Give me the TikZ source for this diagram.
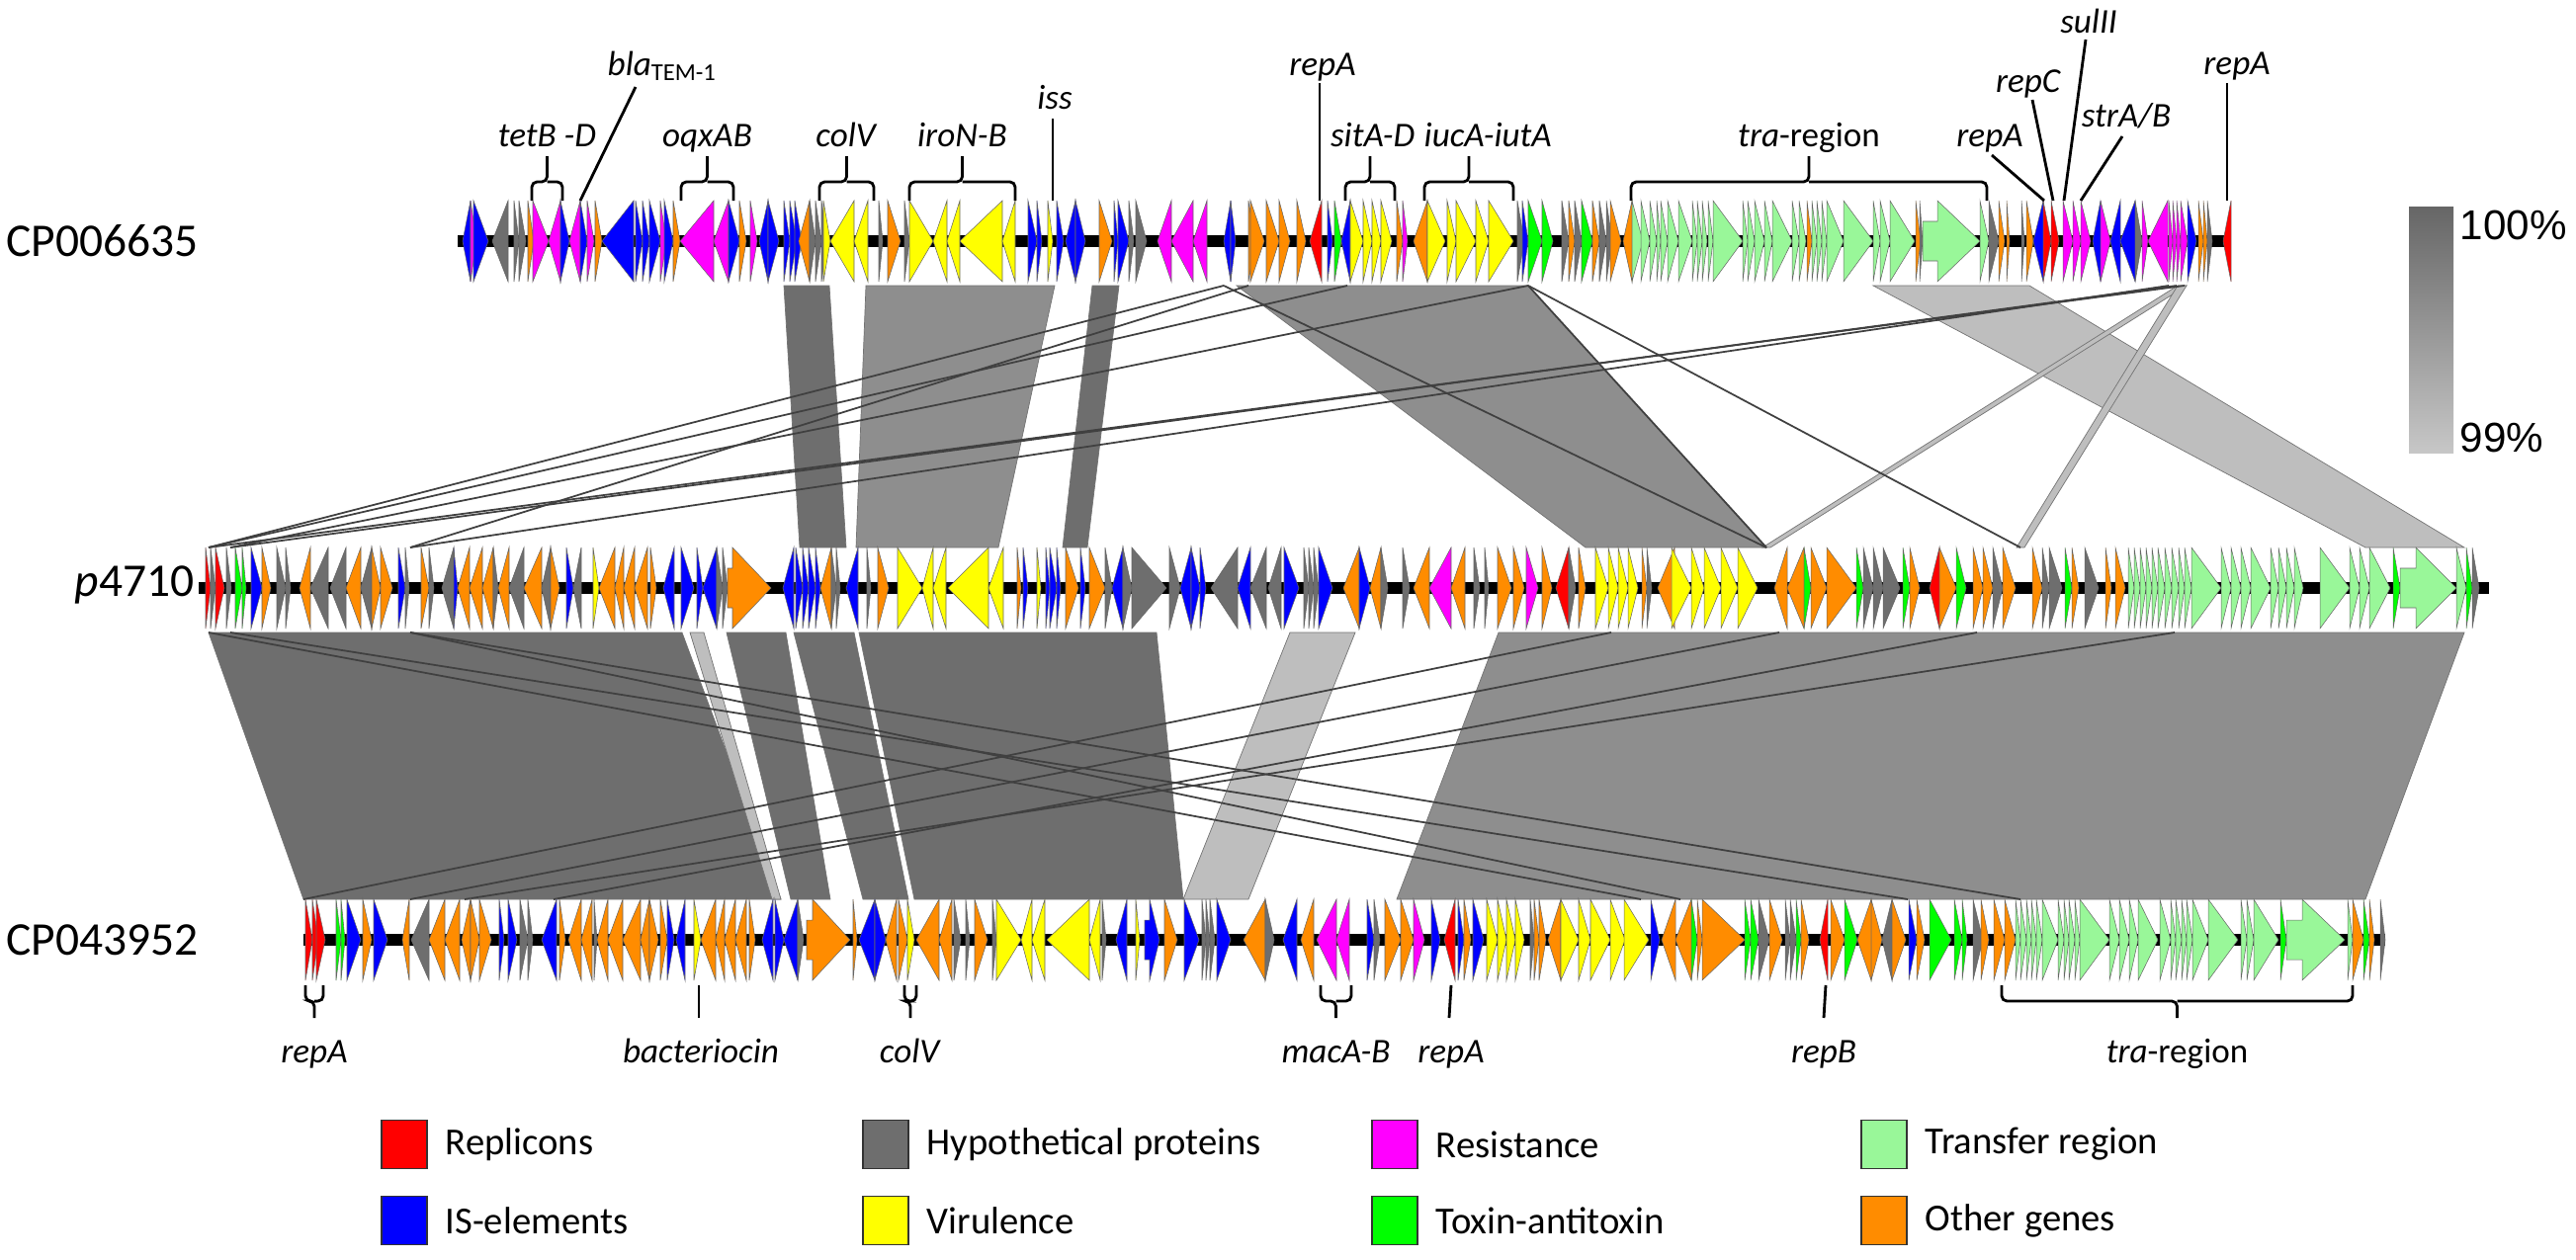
\documentclass[tikz,border=0pt]{standalone}
\usepackage{fontspec}
\setmainfont{Carlito}
\newfontfamily\pctfont{Liberation Sans}
\usetikzlibrary{positioning,calc}

\definecolor{repcol}{HTML}{FF0000}
\definecolor{iscol}{HTML}{0000FF}
\definecolor{hypcol}{HTML}{6E6E6E}
\definecolor{vircol}{HTML}{FFFF00}
\definecolor{rescol}{HTML}{FF00FF}
\definecolor{tacol}{HTML}{00FF00}
\definecolor{tracol}{HTML}{99F799}
\definecolor{othcol}{HTML}{FF8C00}
\definecolor{banddark}{HTML}{6E6E6E}
\definecolor{bandmid}{HTML}{8E8E8E}
\definecolor{bandlight}{HTML}{BEBEBE}

\tikzset{gene/.style={draw=black!60, line width=0.15pt}}
\tikzset{backbone/.style={draw=black, line width=3.6pt}}
\tikzset{band/.style={draw=black!55, line width=0.2pt}}
\tikzset{link/.style={draw=black!75, line width=0.5pt}}
\tikzset{lead/.style={draw=black, line width=0.8pt}}
\tikzset{brace/.style={draw=black, line width=0.8pt, rounded corners=1.5pt}}
\tikzset{glabel/.style={font=\fontsize{10}{12}\selectfont, inner sep=0pt}}
\tikzset{trklabel/.style={font=\fontsize{13.5}{15}\selectfont, anchor=west, inner sep=0pt}}
\tikzset{swatch/.style={draw=black!80, line width=0.4pt, minimum width=13pt, minimum height=14pt, inner sep=0pt}}
\tikzset{legtext/.style={font=\fontsize{11}{13}\selectfont, anchor=west, inner sep=0pt}}

% genes of one track: tail x / head x / colour
\newcommand{\genes}[2]{%
  \foreach \ga/\gb/\gc in {#2}{
    \filldraw[gene, fill=\gc] (\ga,#1-41) -- (\gb,#1) -- (\ga,#1+41) -- cycle;}}
% block arrow: tail, shaft end, head, centre y, colour
\newcommand{\blockgene}[5]{%
  \filldraw[gene, fill=#5] (#1,#4-20) -- (#2,#4-20) -- (#2,#4-41) -- (#3,#4)
    -- (#2,#4+41) -- (#2,#4+20) -- (#1,#4+20) -- cycle;}
\newcommand{\topbrace}[3]{%
  \draw[brace] (#1,203) |- ({(#1+#2)/2},184) -- ({(#1+#2)/2},158);
  \draw[brace] (#2,203) |- ({(#1+#2)/2},184);
  \coordinate (#3) at ({(#1+#2)/2},158);}
\newcommand{\botbrace}[3]{%
  \draw[brace] (#1,997) |- ({(#1+#2)/2},1013) -- ({(#1+#2)/2},1030);
  \draw[brace] (#2,997) |- ({(#1+#2)/2},1013);
  \coordinate (#3) at ({(#1+#2)/2},1030);}

\begin{document}
\begin{tikzpicture}[x=0.1mm, y=-0.1mm]
\useasboundingbox (0,0) rectangle (2606,1274);

% similarity bands CP006635 - p4710
\filldraw[band, fill=banddark] (793,289) -- (839,289) -- (856,554) -- (809,554) -- cycle;
\filldraw[band, fill=bandmid] (876,289) -- (1067,289) -- (1010,554) -- (866,554) -- cycle;
\filldraw[band, fill=banddark] (1105,289) -- (1132,289) -- (1100,554) -- (1075,554) -- cycle;
\filldraw[band, fill=bandmid] (1251,289) -- (1546,289) -- (1787,554) -- (1604,554) -- cycle;
\filldraw[band, fill=bandlight] (1895,289) -- (2053,289) -- (2493,554) -- (2393,554) -- cycle;
\filldraw[band, fill=bandlight] (2203,289) -- (2212,289) -- (1791,554) -- (1783,554) -- cycle;
\filldraw[band, fill=bandlight] (2203,289) -- (2212,289) -- (2048,554) -- (2040,554) -- cycle;
\draw[link] (2210,289) -- (211,554);
\draw[link] (2202,289) -- (233,554);
\draw[link] (2194,289) -- (415,554);
\draw[link] (1238,289) -- (211,554);
\draw[link] (1263,289) -- (415,554);
\draw[link] (1363,289) -- (211,554);
\draw[link] (1546,289) -- (233,554);
\draw[link] (1546,289) -- (1787,554);
\draw[link] (1546,289) -- (2044,554);
\draw[link] (1238,289) -- (1787,554);

% similarity bands p4710 - CP043952
\filldraw[band, fill=banddark] (211,640) -- (690,640) -- (790,910) -- (307,910) -- cycle;
\filldraw[band, fill=bandlight] (698,640) -- (712,640) -- (790,910) -- (781,910) -- cycle;
\filldraw[band, fill=banddark] (735,640) -- (795,640) -- (840,910) -- (800,910) -- cycle;
\filldraw[band, fill=banddark] (803,640) -- (864,640) -- (919,910) -- (873,910) -- cycle;
\filldraw[band, fill=banddark] (869,640) -- (1170,640) -- (1197,910) -- (925,910) -- cycle;
\filldraw[band, fill=bandlight] (1305,640) -- (1371,640) -- (1263,910) -- (1197,910) -- cycle;
\filldraw[band, fill=bandmid] (1516,640) -- (2493,640) -- (2393,910) -- (1413,910) -- cycle;
\draw[link] (211,640) -- (1660,910);
\draw[link] (233,640) -- (1930,910);
\draw[link] (415,640) -- (1700,910);
\draw[link] (415,640) -- (2044,910);
\draw[link] (1630,640) -- (307,910);
\draw[link] (1800,640) -- (415,910);
\draw[link] (2000,640) -- (560,910);
\draw[link] (2200,640) -- (470,910);

% backbones
\coordinate (aL) at (463,244); \coordinate (aR) at (2257,244);
\coordinate (bL) at (201,595); \coordinate (bR) at (2518,595);
\coordinate (cL) at (307,951); \coordinate (cR) at (2413,951);
\draw[backbone] (aL) -- (aR);
\draw[backbone] (bL) -- (bR);
\draw[backbone] (cL) -- (cR);

% CP006635
\genes{244}{476/468/iscol, 476/482/rescol, 479/494/iscol, 514/498/hypcol, 520/525/hypcol,
  525/532/hypcol, 534/540/othcol, 539/555/rescol, 567/555/rescol, 567/576/iscol,
  587/576/rescol, 587/594/iscol, 594/601/rescol, 602/609/othcol, 641/609/iscol,
  643/650/iscol, 650/657/iscol, 657/668/iscol, 668/674/rescol, 672/681/iscol,
  681/688/othcol, 722/688/rescol, 737/722/rescol, 737/748/iscol, 748/755/othcol,
  759/766/rescol, 777/768/iscol, 777/788/iscol, 793/799/iscol, 799/806/iscol,
  804/811/iscol, 819/808/othcol, 819/825/hypcol, 825/831/hypcol, 831/837/hypcol,
  833/840/vircol, 864/840/vircol, 878/864/vircol, 889/893/hypcol, 898/911/othcol,
  915/920/hypcol, 920/944/vircol, 958/944/vircol, 971/958/vircol, 1014/971/vircol,
  1027/1014/vircol, 1040/1049/iscol, 1049/1054/iscol, 1060/1065/vircol, 1069/1076/iscol,
  1088/1078/iscol, 1088/1098/iscol, 1112/1125/othcol, 1127/1131/iscol, 1131/1142/iscol,
  1142/1147/hypcol, 1149/1160/hypcol, 1185/1171/rescol, 1207/1185/rescol, 1221/1207/rescol,
  1245/1238/iscol, 1245/1250/iscol, 1263/1270/othcol, 1265/1279/othcol, 1281/1294/othcol,
  1294/1305/othcol, 1312/1321/othcol, 1337/1325/repcol, 1343/1348/iscol, 1350/1357/tacol,
  1366/1357/iscol, 1366/1379/vircol, 1379/1388/vircol, 1388/1397/vircol, 1397/1408/vircol,
  1413/1419/othcol, 1419/1424/rescol, 1444/1430/othcol, 1444/1462/vircol, 1464/1473/vircol,
  1473/1493/vircol, 1493/1506/vircol, 1506/1531/vircol, 1535/1542/hypcol, 1540/1546/iscol,
  1546/1560/tacol, 1560/1571/tacol, 1580/1587/hypcol, 1587/1593/othcol, 1593/1600/hypcol,
  1600/1611/tacol, 1611/1618/othcol, 1618/1625/hypcol, 1625/1631/hypcol, 1629/1640/othcol,
  1651/1642/othcol, 1651/1662/tracol, 1660/1669/tracol, 1669/1676/tracol, 1676/1680/tracol,
  1680/1687/tracol, 1687/1698/tracol, 1698/1712/tracol, 1712/1717/tracol, 1717/1722/tracol,
  1722/1727/tracol, 1728/1733/tracol, 1733/1763/tracol, 1763/1768/tracol, 1768/1775/tracol,
  1775/1785/tracol, 1785/1793/tracol, 1793/1813/tracol, 1813/1820/tracol, 1820/1827/tracol,
  1828/1833/othcol, 1833/1838/tracol, 1838/1843/tracol, 1843/1848/tracol, 1848/1865/tracol,
  1865/1895/tracol, 1895/1902/tracol, 1902/1912/tracol, 1912/1937/tracol, 1938/1943/othcol,
  1942/1945/hypcol, 2003/2012/tracol, 2012/2022/hypcol, 2022/2028/othcol, 2030/2033/othcol,
  2045/2048/hypcol, 2050/2057/othcol, 2067/2057/iscol, 2067/2075/repcol, 2075/2083/repcol,
  2087/2097/rescol, 2097/2105/rescol, 2105/2115/rescol, 2125/2117/iscol, 2125/2135/rescol,
  2145/2135/iscol, 2160/2145/iscol, 2160/2167/hypcol, 2167/2173/rescol, 2193/2173/rescol,
  2194/2198/rescol, 2198/2202/rescol, 2202/2206/rescol, 2206/2213/rescol, 2213/2222/iscol,
  2224/2229/othcol, 2229/2233/othcol, 2233/2238/hypcol, 2257/2249/repcol}
\blockgene{1945}{1960}{2003}{244}{tracol}

% p4710
\genes{595}{208/213/repcol, 213/218/hypcol, 218/227/repcol, 229/234/hypcol, 238/245/tacol,
  245/249/tacol, 254/265/iscol, 265/274/othcol, 280/289/hypcol, 289/294/hypcol,
  314/303/othcol, 332/314/hypcol, 350/334/hypcol, 365/350/othcol, 376/365/hypcol,
  376/385/othcol, 385/397/othcol, 403/410/iscol, 410/414/hypcol, 426/434/othcol,
  434/439/hypcol, 459/447/hypcol, 459/463/iscol, 475/463/othcol, 488/475/othcol,
  499/488/othcol, 499/504/hypcol, 515/504/othcol, 530/515/hypcol, 548/530/othcol,
  557/548/hypcol, 557/566/othcol, 573/580/iscol, 588/580/hypcol, 600/606/vircol,
  622/606/othcol, 631/622/othcol, 642/631/othcol, 655/642/othcol, 658/664/othcol,
  682/671/iscol, 689/702/iscol, 705/711/iscol, 725/711/iscol, 725/731/hypcol,
  731/736/hypcol, 803/792/iscol, 805/812/iscol, 812/818/iscol, 818/825/iscol,
  825/830/iscol, 841/830/othcol, 841/846/hypcol, 846/850/hypcol, 868/856/iscol,
  877/881/hypcol, 888/899/othcol, 908/933/vircol, 944/933/vircol, 957/944/vircol,
  1000/959/vircol, 1015/1000/vircol, 1029/1033/othcol, 1035/1040/iscol, 1049/1053/vircol,
  1058/1062/iscol, 1062/1069/iscol, 1069/1073/iscol, 1078/1091/othcol, 1093/1098/iscol,
  1102/1118/othcol, 1118/1125/hypcol, 1136/1125/iscol, 1136/1145/hypcol, 1145/1180/hypcol,
  1183/1194/hypcol, 1205/1194/iscol, 1205/1214/iscol, 1214/1220/iscol, 1252/1225/hypcol,
  1265/1252/iscol, 1281/1265/hypcol, 1296/1283/hypcol, 1299/1314/iscol, 1319/1324/hypcol,
  1324/1329/hypcol, 1329/1334/hypcol, 1334/1348/iscol, 1375/1359/othcol, 1375/1386/iscol,
  1397/1386/othcol, 1397/1404/hypcol, 1419/1426/hypcol, 1446/1430/othcol, 1468/1446/rescol,
  1482/1468/othcol, 1491/1497/hypcol, 1502/1506/hypcol, 1515/1529/othcol, 1531/1542/othcol,
  1544/1556/rescol, 1560/1570/othcol, 1587/1574/repcol, 1587/1594/hypcol, 1597/1604/othcol,
  1614/1627/vircol, 1627/1637/vircol, 1637/1647/vircol, 1647/1657/vircol, 1661/1666/othcol,
  1666/1671/hypcol, 1694/1677/othcol, 1691/1711/vircol, 1711/1724/vircol, 1724/1741/vircol,
  1741/1758/vircol, 1758/1778/vircol, 1808/1795/othcol, 1825/1808/othcol, 1825/1832/tacol,
  1832/1848/othcol, 1848/1878/othcol, 1878/1885/tacol, 1885/1895/hypcol, 1895/1905/hypcol,
  1905/1922/hypcol, 1925/1932/tacol, 1932/1942/othcol, 1962/1952/repcol, 1962/1979/othcol,
  1979/1989/tacol, 1996/2006/othcol, 2006/2016/othcol, 2016/2026/hypcol, 2026/2039/othcol,
  2056/2066/othcol, 2066/2073/hypcol, 2073/2086/hypcol, 2089/2096/tacol, 2096/2103/othcol,
  2109/2123/hypcol, 2130/2136/othcol, 2140/2150/othcol, 2153/2159/tracol, 2159/2165/tracol,
  2165/2171/tracol, 2171/2177/tracol, 2177/2183/tracol, 2183/2190/tracol, 2190/2197/tracol,
  2197/2204/tracol, 2204/2210/tracol, 2210/2217/tracol, 2217/2247/tracol, 2247/2257/tracol,
  2257/2267/tracol, 2267/2277/tracol, 2277/2297/tracol, 2297/2305/tracol, 2305/2313/tracol,
  2313/2321/tracol, 2321/2330/tracol, 2347/2377/tracol, 2377/2387/tracol, 2387/2397/tracol,
  2397/2418/tracol, 2421/2428/tacol, 2485/2495/tracol, 2495/2501/tacol, 2501/2508/hypcol}
\blockgene{736}{741}{780}{595}{othcol}
\blockgene{2428}{2444}{2485}{595}{tracol}

% CP043952
\genes{951}{309/316/repcol, 316/322/repcol, 320/329/repcol, 340/345/tacol, 345/349/tacol,
  351/365/iscol, 367/376/othcol, 378/392/iscol, 414/407/othcol, 434/416/hypcol,
  450/434/othcol, 465/450/othcol, 476/467/othcol, 476/485/othcol, 485/497/othcol,
  505/510/iscol, 514/523/iscol, 526/534/hypcol, 534/539/hypcol, 563/548/iscol,
  566/572/othcol, 588/575/othcol, 599/588/othcol, 601/604/hypcol, 615/604/othcol,
  630/615/othcol, 648/630/othcol, 657/648/othcol, 657/666/othcol, 668/675/othcol,
  675/682/iscol, 693/684/iscol, 702/709/vircol, 724/709/othcol, 733/724/othcol,
  744/733/othcol, 755/744/othcol, 758/764/othcol, 782/771/iscol, 784/793/iscol,
  807/793/iscol, 807/813/hypcol, 863/867/othcol, 885/869/iscol, 885/896/iscol,
  907/896/othcol, 909/918/othcol, 918/925/vircol, 950/927/othcol, 963/950/othcol,
  965/972/hypcol, 977/981/hypcol, 986/999/othcol, 1004/1008/hypcol, 1008/1033/vircol,
  1044/1033/vircol, 1057/1044/vircol, 1102/1059/vircol, 1113/1102/vircol, 1115/1119/hypcol,
  1140/1129/iscol, 1149/1153/vircol, 1178/1191/othcol, 1198/1213/iscol, 1216/1220/hypcol,
  1220/1224/hypcol, 1224/1229/hypcol, 1231/1245/iscol, 1280/1258/othcol, 1280/1289/hypcol,
  1312/1298/iscol, 1329/1316/othcol, 1352/1332/rescol, 1365/1352/rescol, 1383/1390/iscol,
  1390/1396/hypcol, 1401/1417/othcol, 1417/1430/othcol, 1430/1441/rescol, 1448/1457/iscol,
  1472/1461/repcol, 1475/1481/iscol, 1481/1488/othcol, 1490/1501/iscol, 1504/1515/vircol,
  1515/1524/vircol, 1524/1533/vircol, 1533/1542/vircol, 1548/1552/hypcol, 1552/1557/othcol,
  1557/1564/othcol, 1579/1566/othcol, 1579/1597/vircol, 1597/1609/vircol, 1609/1629/vircol,
  1629/1644/vircol, 1643/1668/vircol, 1670/1679/iscol, 1695/1681/othcol, 1711/1695/othcol,
  1711/1717/tacol, 1717/1722/othcol, 1722/1765/othcol, 1765/1771/tacol, 1771/1779/tacol,
  1779/1790/hypcol, 1790/1803/othcol, 1806/1811/hypcol, 1811/1817/hypcol, 1817/1822/tacol,
  1822/1830/othcol, 1849/1841/repcol, 1852/1866/othcol, 1866/1879/tacol, 1893/1879/othcol,
  1893/1904/othcol, 1914/1904/hypcol, 1914/1928/othcol, 1931/1939/iscol, 1939/1947/othcol,
  1952/1974/tacol, 1977/1985/tacol, 1985/1990/tacol, 1996/2006/hypcol, 2004/2012/othcol,
  2017/2028/othcol, 2028/2039/othcol, 2039/2044/tracol, 2044/2050/tracol, 2050/2055/tracol,
  2055/2060/tracol, 2060/2066/tracol, 2066/2082/tracol, 2082/2088/tracol, 2088/2093/tracol,
  2093/2099/tracol, 2099/2104/tracol, 2104/2134/tracol, 2134/2144/tracol, 2144/2154/tracol,
  2154/2163/tracol, 2163/2183/tracol, 2185/2196/tracol, 2196/2201/tracol, 2201/2207/tracol,
  2207/2212/tracol, 2212/2218/tracol, 2218/2234/tracol, 2234/2264/tracol, 2267/2273/tracol,
  2273/2280/tracol, 2280/2305/tracol, 2307/2313/tacol, 2375/2380/tracol, 2380/2391/othcol,
  2391/2397/tacol, 2397/2402/othcol, 2408/2413/hypcol}
\blockgene{816}{822}{860}{951}{othcol}
\blockgene{1158}{1163}{1173}{951}{iscol}
\blockgene{2313}{2329}{2372}{951}{tracol}

% track names
\node[trklabel] (nameA) at (6,244) {CP006635};
\node[trklabel] (nameB) at (75,592) {\textit{p}4710};
\node[trklabel] (nameC) at (6,951) {CP043952};

% top annotations
\topbrace{538}{569}{tbTet}
\node[glabel, anchor=base] (labTet) at ($(tbTet)+(0,-10)$) {\textit{tetB -D}};
\topbrace{689}{742}{tbOqx}
\node[glabel, anchor=base] (labOqx) at ($(tbOqx)+(0,-10)$) {\textit{oqxAB}};
\topbrace{829}{884}{tbColV}
\node[glabel, anchor=base] (labColV) at ($(tbColV)+(0,-10)$) {\textit{colV}};
\topbrace{920}{1027}{tbIro}
\node[glabel, anchor=base] (labIro) at ($(tbIro)+(0,-10)$) {\textit{iroN-B}};
\topbrace{1361}{1411}{tbSit}
\node[glabel, anchor=base east] (labSit) at (1432,148) {\textit{sitA-D}};
\topbrace{1441}{1531}{tbIuc}
\node[glabel, anchor=base west] (labIuc) at (1440,148) {\textit{iucA-iutA}};
\topbrace{1650}{2010}{tbTra}
\node[glabel, anchor=base] (labTra) at ($(tbTra)+(0,-10)$) {\textit{tra}-region};

\node[glabel, anchor=base west] (labBla) at (614,76) {\textit{bla}\textsubscript{TEM-1}};
\coordinate (tipBla) at (587,203);
\draw[lead] ($(labBla.base west)+(29,12)$) -- (tipBla);
\node[glabel, anchor=base] (labIss) at (1067,110) {\textit{iss}};
\coordinate (tipIss) at (1065,203);
\draw[lead] ($(labIss.base)+(-2,10)$) -- (tipIss);
\node[glabel, anchor=base] (labRepA) at (1338,76) {\textit{repA}};
\coordinate (tipRepA) at (1335,203);
\draw[lead] ($(labRepA.base)+(-3,8)$) -- (tipRepA);
\node[glabel, anchor=base] (labRepB) at (2013,148) {\textit{repA}};
\coordinate (tipRepB) at (2068,203);
\draw[lead] ($(labRepB.base)+(2,9)$) -- (tipRepB);
\node[glabel, anchor=base] (labRepC) at (2052,93) {\textit{repC}};
\coordinate (tipRepC) at (2077,203);
\draw[lead] ($(labRepC.base)+(4,8)$) -- (tipRepC);
\node[glabel, anchor=base] (labSul) at (2113,33) {\textit{sulII}};
\coordinate (tipSul) at (2088,203);
\draw[lead] ($(labSul.base)+(-3,7)$) -- (tipSul);
\node[glabel, anchor=base] (labStr) at (2151,128) {\textit{strA/B}};
\coordinate (tipStr) at (2105,203);
\draw[lead] ($(labStr.base)+(-4,10)$) -- (tipStr);
\node[glabel, anchor=base] (labRepD) at (2263,75) {\textit{repA}};
\coordinate (tipRepD) at (2253,203);
\draw[lead] ($(labRepD.base)+(-10,9)$) -- (tipRepD);

% bottom annotations
\botbrace{309}{327}{bbRep}
\node[glabel, anchor=base] (labBRep) at ($(bbRep)+(0,45)$) {\textit{repA}};
\coordinate (tipBac) at (707,997);
\node[glabel, anchor=base] (labBac) at (709,1075) {\textit{bacteriocin}};
\draw[lead] (tipBac) -- ($(labBac.base)+(-2,-45)$);
\botbrace{915}{927}{bbCol}
\node[glabel, anchor=base] (labBCol) at ($(bbCol)+(0,45)$) {\textit{colV}};
\botbrace{1336}{1367}{bbMac}
\node[glabel, anchor=base] (labMac) at ($(bbMac)+(0,45)$) {\textit{macA-B}};
\coordinate (tipBRepA) at (1468,997);
\node[glabel, anchor=base] (labBRepA) at (1468,1075) {\textit{repA}};
\draw[lead] (tipBRepA) -- ($(labBRepA.base)+(-2,-45)$);
\coordinate (tipRepB2) at (1847,997);
\node[glabel, anchor=base] (labRepB2) at (1845,1075) {\textit{repB}};
\draw[lead] (tipRepB2) -- ($(labRepB2.base)+(0,-45)$);
\botbrace{2025}{2380}{bbTra}
\node[glabel, anchor=base] (labBTra) at ($(bbTra)+(0,45)$) {\textit{tra}-region};

% identity scale
\shade[top color=black!60, bottom color=black!22] (2437,209) rectangle (2482,458);
\node[font=\pctfont\fontsize{12}{14}\selectfont, anchor=west, inner sep=0pt] (pctHi) at (2488,228) {100\%};
\node[font=\pctfont\fontsize{12}{14}\selectfont, anchor=west, inner sep=0pt] (pctLo) at (2488,443) {99\%};

% legend
\node[swatch, fill=repcol] (lgRep) at (409,1158) {};
\node[legtext, right=5pt of lgRep] {Replicons};
\node[swatch, fill=iscol] (lgIS) at (409,1235) {};
\node[legtext, right=5pt of lgIS] {IS-elements};
\node[swatch, fill=hypcol] (lgHyp) at (896,1158) {};
\node[legtext, right=5pt of lgHyp] {Hypothetical proteins};
\node[swatch, fill=vircol] (lgVir) at (896,1235) {};
\node[legtext, right=5pt of lgVir] {Virulence};
\node[swatch, fill=rescol] (lgRes) at (1411,1158) {};
\node[legtext, right=5pt of lgRes] {Resistance};
\node[swatch, fill=tacol] (lgTA) at (1411,1235) {};
\node[legtext, right=5pt of lgTA] {Toxin-antitoxin};
\node[swatch, fill=tracol] (lgTra) at (1906,1158) {};
\node[legtext, right=5pt of lgTra] {Transfer region};
\node[swatch, fill=othcol] (lgOth) at (1906,1235) {};
\node[legtext, right=5pt of lgOth] {Other genes};
\end{tikzpicture}
\end{document}
